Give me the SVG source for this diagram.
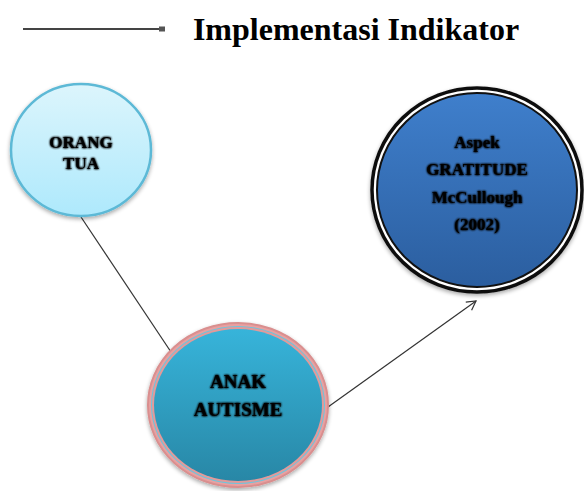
<svg xmlns="http://www.w3.org/2000/svg" width="584" height="491" viewBox="0 0 584 491">
<style>
.lbl{font-weight:bold;fill:#000;text-anchor:middle}
.edge{stroke:#333;stroke-width:1.2;fill:none}
</style>
<defs>
<filter id="glow" x="-20%" y="-40%" width="140%" height="180%">
<feGaussianBlur in="SourceAlpha" stdDeviation="1.3" result="b"/>
<feMerge><feMergeNode in="b"/><feMergeNode in="b"/><feMergeNode in="SourceGraphic"/></feMerge>
</filter>
<filter id="shadow" x="-10%" y="-10%" width="120%" height="125%">
<feGaussianBlur in="SourceAlpha" stdDeviation="2"/>
<feOffset dy="2" result="o"/>
<feComponentTransfer><feFuncA type="linear" slope="0.35"/></feComponentTransfer>
<feMerge><feMergeNode/><feMergeNode in="SourceGraphic"/></feMerge>
</filter>
<linearGradient id="gLight" x1="0" y1="0" x2="0" y2="1">
<stop offset="0" stop-color="#dcf5fc"/><stop offset="1" stop-color="#aee9fc"/>
</linearGradient>
<linearGradient id="gBlue" x1="0" y1="0" x2="0" y2="1">
<stop offset="0" stop-color="#3f7fcc"/><stop offset="1" stop-color="#2b5e9f"/>
</linearGradient>
<linearGradient id="gTeal" x1="0" y1="0" x2="0" y2="1">
<stop offset="0" stop-color="#37b4da"/><stop offset="1" stop-color="#2887a6"/>
</linearGradient>
<marker id="arr" markerWidth="12" markerHeight="12" refX="10" refY="6" orient="auto" markerUnits="userSpaceOnUse">
<path d="M1,1 L10,6 L1,11" fill="none" stroke="#333" stroke-width="1.2"/>
</marker>
<marker id="sq" markerWidth="6" markerHeight="6" refX="3" refY="3" orient="auto" markerUnits="userSpaceOnUse">
<rect x="0" y="0.5" width="6" height="5" fill="#555"/>
</marker>
</defs>
<rect width="584" height="491" fill="#fff"/>
<g id="legend">
<line x1="23" y1="29" x2="162" y2="29" stroke="#444" stroke-width="2" marker-end="url(#sq)"/>
<text x="356" y="40" font-family="Liberation Serif, Times New Roman, serif" font-weight="bold" font-size="32" text-anchor="middle" fill="#000">Implementasi Indikator</text>
</g>
<g id="connectors">
<line class="edge" x1="81" y1="217" x2="171" y2="352"/>
<line class="edge" x1="328" y1="407" x2="476" y2="301" marker-end="url(#arr)"/>
</g>
<g id="orang-tua">
<ellipse cx="81" cy="150" rx="70" ry="66" fill="url(#gLight)" stroke="#5db9d6" stroke-width="2.5" filter="url(#shadow)"/>
<g filter="url(#glow)" font-family="Liberation Serif, Times New Roman, serif">
<text class="lbl" x="81" y="148" font-size="17">ORANG</text>
<text class="lbl" x="81" y="169" font-size="17">TUA</text>
</g>
</g>
<g id="gratitude">
<ellipse cx="477" cy="190" rx="105" ry="102" fill="#fff" stroke="#111" stroke-width="3.5" filter="url(#shadow)"/>
<ellipse cx="477" cy="190" rx="100" ry="97" fill="url(#gBlue)" stroke="#111" stroke-width="2"/>
<g filter="url(#glow)" font-family="Liberation Serif, Times New Roman, serif">
<text class="lbl" x="477" y="148" font-size="17">Aspek</text>
<text class="lbl" x="477" y="175" font-size="17">GRATITUDE</text>
<text class="lbl" x="477" y="203" font-size="17">McCullough</text>
<text class="lbl" x="477" y="230" font-size="17">(2002)</text>
</g>
</g>
<g id="anak-autisme">
<ellipse cx="238" cy="405" rx="90" ry="82" fill="#e9a0a0" stroke="#d98f8f" stroke-width="2" filter="url(#shadow)"/>
<ellipse cx="238" cy="405" rx="87" ry="79" fill="#6fc4dc"/>
<ellipse cx="238" cy="405" rx="86" ry="78" fill="#e29a9a"/>
<ellipse cx="238" cy="405" rx="84" ry="76" fill="url(#gTeal)"/>
<g filter="url(#glow)" font-family="Liberation Serif, Times New Roman, serif">
<text class="lbl" x="238" y="388" font-size="19">ANAK</text>
<text class="lbl" x="238" y="416" font-size="19">AUTISME</text>
</g>
</g>
</svg>
